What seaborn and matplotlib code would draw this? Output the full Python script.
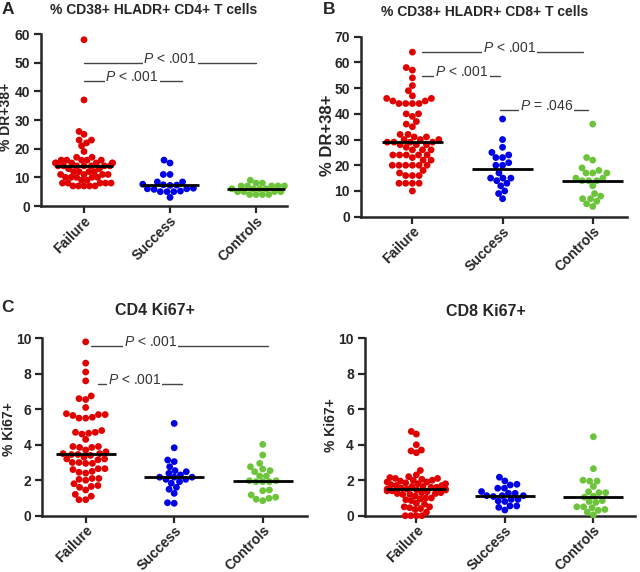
import numpy as np
import pandas as pd
import matplotlib
matplotlib.use("Agg")
import matplotlib.pyplot as plt
from matplotlib.collections import PathCollection
import seaborn as sns
import warnings

warnings.filterwarnings("ignore")

# ── data ────────────────────────────────────────────────────────────
groups = ["Failure", "Success", "Controls"]

cd4_dr38_failure = [58, 37, 26, 25, 23, 23, 22, 21, 19, 17, 17, 16, 16, 16, 16, 16,
                    15, 15, 15, 15, 15, 15, 14, 14, 14, 14, 14, 14, 14, 13, 13,
                    12, 12, 12, 12, 11, 11, 11, 11, 10, 10, 10, 10, 10, 9, 9,
                    8, 8, 8, 8, 8, 7, 7, 7, 7, 7]
cd4_dr38_success = [16, 15, 11, 11, 8.4, 8.4, 7.6, 7.4, 7.3, 7.2, 6.2, 6, 6, 5.8,
                    5.2, 5, 5, 5, 3]
cd4_dr38_controls = [9, 8, 8, 7, 7, 7, 7, 7, 6, 6, 6, 6, 5, 5, 5, 5, 4, 4, 4, 4]

cd8_dr38_failure = [64, 58, 57, 54, 51, 49, 47, 46, 46, 45, 45, 44, 44, 44, 44,
                    40, 40, 39, 37, 36, 35, 32, 32, 31, 31, 30, 30, 30, 29, 29,
                    29, 29, 28, 28, 28, 27, 26, 26, 26, 24, 24, 24, 24, 24, 23,
                    22, 22, 20, 20, 20, 20, 20, 20, 18, 17, 16, 16, 16, 13, 13,
                    13, 13, 10]
cd8_dr38_success = [38, 30, 27, 25, 24, 23, 23, 21, 20, 20, 17, 15, 15, 15, 14,
                    13, 12, 10, 9, 7]
cd8_dr38_controls = [36, 23, 22, 19, 18, 17, 17, 17, 15, 15, 14, 14, 14, 12, 9,
                     8, 7, 7, 6, 5, 4]

cd4_ki67_failure = [9.8, 8.6, 8.1, 7.6, 6.75, 6.6, 6.55, 6.1, 5.75, 5.7, 5.7,
                    5.65, 5.55, 5.5, 5.5, 4.8, 4.7, 4.7, 4.65, 4.6, 4.3, 3.9,
                    3.9, 3.85, 3.85, 3.7, 3.6, 3.5, 3.5, 3.45, 3.45, 3.4, 3.3,
                    3.2, 3.2, 3.15, 3.0, 3.0, 2.95, 2.95, 2.65, 2.65, 2.6, 2.5,
                    2.45, 2.4, 2.1, 2.1, 2.05, 2.0, 1.8, 1.7, 1.65, 1.6, 1.45,
                    1.2, 1.1, 0.9, 0.9]
cd4_ki67_success = [5.2, 3.83, 3.14, 3.05, 2.76, 2.54, 2.48, 2.39, 2.3, 2.17,
                    2.17, 2.17, 2.05, 2.05, 1.92, 1.83, 1.6, 1.49, 1.26, 0.73, 0.7]
cd4_ki67_controls = [4.02, 3.42, 2.95, 2.76, 2.63, 2.54, 2.48, 2.24, 2.24, 1.97,
                     1.97, 1.92, 1.92, 1.92, 1.45, 1.41, 1.17, 1.04, 0.98, 0.93, 0.85]

cd8_ki67_failure = [4.75, 4.6, 4.0, 3.7, 3.65, 3.55, 2.55, 2.3, 2.2, 2.15, 2.1,
                    2.1, 2.05, 2.0, 2.0, 1.95, 1.9, 1.9, 1.85, 1.8, 1.8, 1.75,
                    1.7, 1.7, 1.65, 1.65, 1.6, 1.6, 1.55, 1.5, 1.5, 1.5, 1.45,
                    1.45, 1.4, 1.4, 1.35, 1.3, 1.3, 1.25, 1.25, 1.2, 1.2, 1.1,
                    1.0, 1.0, 0.95, 0.9, 0.85, 0.7, 0.65, 0.5, 0.5, 0.45, 0.4,
                    0.35, 0.2, 0.0, 0.0, 0.0, 0.0]
cd8_ki67_success = [2.17, 1.96, 1.77, 1.73, 1.55, 1.55, 1.36, 1.26, 1.26, 1.13,
                    1.13, 1.13, 1.08, 0.92, 0.92, 0.83, 0.8, 0.55, 0.55, 0.47, 0.32]
cd8_ki67_controls = [4.45, 2.65, 2.0, 1.95, 1.95, 1.65, 1.35, 1.3, 1.3, 1.1, 1.05,
                     0.85, 0.8, 0.75, 0.5, 0.5, 0.45, 0.35, 0.3, 0.2, 0.05]

colors = {"Failure": "#e00000", "Success": "#0000e6", "Controls": "#6cc43a"}

# ── style ───────────────────────────────────────────────────────────
sns.set_style("ticks")
plt.rcParams["font.family"] = ["Liberation Sans", "DejaVu Sans"]
plt.rcParams["mathtext.fontset"] = "custom"
plt.rcParams["mathtext.it"] = "Liberation Sans:italic"
plt.rcParams["mathtext.rm"] = "Liberation Sans"

W, H = 640, 572
SWARM_SIZE = 4.6     # marker size used while packing the swarm
DOT_SIZE = 4.9       # final marker size
MAX_HALF = 0.33      # cap on swarm half width, category units

fig = plt.figure(figsize=(W / 100, H / 100), dpi=100)
axes = []


def px_rect(left, right, top, bottom):
    return [left / W, 1 - bottom / H, (right - left) / W, (bottom - top) / H]


def draw_panel(rect, values, ymax, ystep, xlim, ylabel, ylabel_size,
               label_xy, notes):
    ax = fig.add_axes(rect)
    df = pd.DataFrame({
        "group": np.repeat(groups, [len(v) for v in values]),
        "value": np.concatenate(values),
    })
    sns.swarmplot(data=df, x="group", y="value", hue="group", order=groups,
                  palette=colors, size=SWARM_SIZE, linewidth=0, legend=False,
                  ax=ax)

    med = df.groupby("group")["value"].median().reindex(groups)
    pos = np.arange(len(groups))
    ax.hlines(med.values, pos - 0.34, pos + 0.34, color="black", lw=2, zorder=5)

    ax.set_xlim(*xlim)
    ax.set_ylim(0, ymax)
    ax.set_yticks(np.arange(0, ymax + 0.01, ystep))
    ax.set_xlabel("")
    ax.set_ylabel(ylabel, fontsize=ylabel_size, fontweight="bold")
    ax.yaxis.set_label_coords(*label_xy)
    ax.set_xticks(pos)
    ax.set_xticklabels(groups, rotation=45, ha="right", rotation_mode="anchor",
                       fontsize=10, fontweight="bold")
    for t in ax.get_yticklabels():
        t.set_fontweight("bold")
        t.set_fontsize(10)
    ax.tick_params(axis="y", width=1.6, length=5, pad=3)
    ax.tick_params(axis="x", width=1.6, length=5, pad=0.5)
    sns.despine(ax=ax)
    for s in ["left", "bottom"]:
        ax.spines[s].set_linewidth(1.8)

    for x0, x1, y, xt, txt in notes:
        ax.plot([x0, x1], [y, y], color="#444444", lw=1, zorder=3, clip_on=False)
        ax.text(xt, y, txt, ha="center", va="baseline", fontsize=10,
                color="#333333", zorder=4,
                bbox=dict(facecolor="white", edgecolor="none", pad=0.6))
    axes.append(ax)
    return ax


draw_panel(px_rect(41, 287, 34, 206),
           [cd4_dr38_failure, cd4_dr38_success, cd4_dr38_controls],
           60, 10, (-0.5, 2.36), "% DR+38+", 10, (-0.112, 0.52),
           [(0, 2, 50, 1.0, r"$\it{P}$ < .001"),
            (0, 1.14, 43.7, 0.56, r"$\it{P}$ < .001")])

draw_panel(px_rect(361, 627, 36.7, 216.7),
           [cd8_dr38_failure, cd8_dr38_success, cd8_dr38_controls],
           70, 10, (-0.57, 2.38), "% DR+38+", 12, (-0.096, 0.45),
           [(0.11, 1.89, 63.9, 1.08, r"$\it{P}$ < .001"),
            (0.11, 0.97, 54.7, 0.55, r"$\it{P}$ < .001"),
            (0.97, 1.95, 41.5, 1.49, r"$\it{P}$ = .046")])

draw_panel(px_rect(42.3, 307, 338.3, 515.7),
           [cd4_ki67_failure, cd4_ki67_success, cd4_ki67_controls],
           10, 2, (-0.49, 2.5), "% Ki67+", 10, (-0.099, 0.49),
           [(0.06, 2.06, 9.59, 0.73, r"$\it{P}$ < .001"),
            (0.14, 1.09, 7.41, 0.55, r"$\it{P}$ < .001")])

draw_panel(px_rect(365, 635, 338.3, 515.7),
           [cd8_ki67_failure, cd8_ki67_success, cd8_ki67_controls],
           10, 2, (-0.58, 2.47), "% Ki67+", 10, (-0.10, 0.51), [])

# titles and panel letters
fig.text(154 / W, 1 - 10 / H, "% CD38+ HLADR+ CD4+ T cells", ha="center",
         va="center", fontsize=10, fontweight="bold")
fig.text(485 / W, 1 - 11.7 / H, "% CD38+ HLADR+ CD8+ T cells", ha="center",
         va="center", fontsize=10, fontweight="bold")
fig.text(155 / W, 1 - 310.7 / H, "CD4 Ki67+", ha="center", va="center",
         fontsize=11.5, fontweight="bold")
fig.text(485.5 / W, 1 - 311.7 / H, "CD8 Ki67+", ha="center", va="center",
         fontsize=11.5, fontweight="bold")
for letter, x, y in [("A", 8, 10), ("B", 329, 10), ("C", 8, 308)]:
    fig.text(x / W, 1 - y / H, letter, ha="center", va="center",
             fontsize=12.5, fontweight="bold")

# let seaborn pack the swarms once, then freeze them and squeeze any row
# that spills past the median bar, as in the Prism original
fig.canvas.draw()
for ax in axes:
    for c in ax.collections:
        if not isinstance(c, PathCollection):
            continue
        offs = np.asarray(c.get_offsets(), dtype=float).copy()
        if "draw" in c.__dict__:
            del c.draw
        if len(offs):
            centre = np.round(offs[:, 0].mean())
            dx = offs[:, 0] - centre
            half = np.abs(dx).max()
            if half > MAX_HALF:
                offs[:, 0] = centre + dx * MAX_HALF / half
        c.set_offsets(offs)
        c.set_sizes([DOT_SIZE ** 2])
        c.set_clip_on(False)

fig.savefig("out.png", dpi=100)
plt.close(fig)
